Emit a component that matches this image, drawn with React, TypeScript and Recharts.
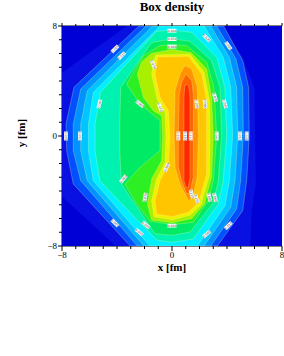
import React from 'react';
import { ScatterChart, Scatter, XAxis, YAxis, Label } from 'recharts';

type Pt = { x: number; y: number };
const pts = (a: number[][]): Pt[] => a.map(([x, y]) => ({ x, y }));

const AXIS_TICKS = [-8, -7, -6, -5, -4, -3, -2, -1, 0, 1, 2, 3, 4, 5, 6, 7, 8];
const MAJOR_TICKS = [-8, 0, 8];

// fill colour of each contour level, outermost first
const LEVEL_COLORS = [
  '#0000d6', '#0810e2', '#0050ff', '#0092ff', '#00c4ff', '#00f0ff', '#00f2b0',
  '#00ea66', '#2cf024', '#a8f000', '#f0f000', '#ffc600', '#ff9400', '#ff6000', '#ff2800',
];
const LEVEL_VALUES = [
  '0.000', '0.001', '0.005', '0.010', '0.020', '0.030', '0.040', '0.050',
  '0.060', '0.070', '0.080', '0.090', '0.100', '0.110', '0.120',
];

// contour polygons in fm, from the picture
const BAND_0 = pts([[-8, -8], [8, -8], [8, 8], [-8, 8]]);
const BAND_1 = pts([[-3.3, 8], [3.6, 8], [5.1, 5.8], [6.0, 3.5], [6.1, -3.5], [5.8, -5.4], [5.7, -8], [-4.1, -8], [-8, -4.4], [-8, 4.6]]);
const BAND_2 = pts([[-2.4, 8], [3.75, 8], [5.14, 5.48], [5.57, 3.54], [5.62, 0], [5.43, -3.27], [5.14, -5.43], [3.3, -8], [-3.05, -8], [-7.18, -3.49], [-7.66, -1.07], [-7.71, 0.87], [-7.13, 3.54]]);
const BAND_3 = pts([[-1.89, 8], [3.25, 8], [4.65, 5.6], [5.14, 3.54], [5.19, 0], [4.99, -3.25], [4.7, -5.31], [2.81, -8], [-2.52, -8], [-6.64, -3.25], [-7.18, -1.07], [-7.18, 0.87], [-6.64, 3.42]]);
const BAND_4 = pts([[-1.41, 8], [2.81, 8], [4.17, 5.72], [4.7, 3.54], [4.78, 0], [4.58, -3.25], [4.27, -5.19], [2.33, -8], [-2.04, -8], [-6.16, -3.25], [-6.64, -1.07], [-6.64, 0.87], [-6.16, 3.3]]);
const BAND_5 = pts([[-0.87, 8], [2.33, 8], [3.73, 5.72], [4.27, 3.54], [4.41, 0], [4.17, -3.25], [3.86, -5.07], [1.84, -8], [-1.6, -8], [-5.72, -3.25], [-6.08, -1.07], [-6.08, 0.87], [-5.72, 3.18]]);
const BAND_6 = pts([[-5.19, 3.18], [-1.12, 7.61], [0, 7.71], [1.43, 7.54], [3.25, 5.72], [3.85, 3.54], [3.98, 0], [3.73, -3.25], [3.37, -4.95], [1.55, -7.49], [0, -7.73], [-1.12, -7.56], [-5.24, -3.27], [-5.6, -1.07], [-5.6, 0.87]]);
const BAND_7 = pts([[-3.73, 3.54], [-1.48, 6.8], [0, 7.06], [1.31, 6.89], [2.88, 5.48], [3.49, 3.54], [3.61, 0], [3.37, -3.27], [3.01, -4.85], [1.31, -6.98], [0, -7.22], [-1.24, -7.1], [-3.68, -3.49], [-3.8, -1.07], [-3.8, 0.87]]);
const BAND_8 = pts([[-3.3, 3.78], [-2.08, 5.84], [-0.87, 6.57], [0, 6.64], [1.07, 6.57], [2.52, 5.36], [3.05, 3.54], [3.25, 0], [3.0, -3.25], [2.64, -4.7], [1.55, -6.28], [0, -6.45], [-1.6, -6.2], [-2.57, -4.95], [-3.42, -3.49], [-2.33, -2.28], [-0.87, -1.07], [-0.87, 1.12], [-2.33, 2.33]]);
const BAND_9 = pts([[-2.52, 4.51], [-2.2, 5.4], [-1.5, 6.0], [0, 6.3], [1.4, 6.05], [2.52, 4.87], [2.88, 2.81], [3.0, 0], [2.88, -3.0], [2.35, -4.95], [1.45, -6.0], [0, -6.3], [-1.48, -6.11], [-1.79, -4.95], [-1.48, -3.13], [-0.75, -1.79], [-0.68, 0], [-0.75, 1.48], [-1.36, 1.84], [-2.08, 2.81]]);
const BAND_10 = pts([[-1.48, 4.51], [-1.2, 5.9], [1.3, 5.95], [2.33, 4.63], [2.72, 2.57], [2.76, 0], [2.72, -2.88], [2.1, -5.0], [1.35, -5.75], [0, -6.11], [-1.31, -5.87], [-1.48, -4.7], [-1.12, -3.13], [-0.51, -1.92], [-0.44, 0], [-0.51, 1.72], [-1.07, 2.62]]);
const BAND_11 = pts([[-1.24, 4.51], [-1.05, 5.75], [1.2, 5.8], [2.16, 4.51], [2.52, 2.57], [2.52, 0], [2.52, -2.76], [1.95, -4.8], [1.2, -5.55], [0, -5.87], [-1.12, -5.67], [-1.24, -4.7], [-0.87, -3.25], [-0.27, -2.04], [-0.15, 0], [-0.27, 1.84], [-0.87, 2.81]]);
const BAND_12 = pts([[0.58, 4.51], [0.95, 5.12], [1.43, 4.87], [1.84, 3.54], [1.92, 0], [1.84, -2.88], [1.55, -4.46], [1.19, -4.7], [0.58, -3.49], [0.22, -2.28], [0.15, 0], [0.22, 3.3]]);
const BAND_13 = pts([[0.7, 3.9], [1.02, 4.51], [1.43, 4.02], [1.55, 3.05], [1.55, 0], [1.55, -3.0], [1.31, -4.1], [1.07, -4.22], [0.7, -3.25], [0.46, -2.28], [0.46, 0], [0.53, 3.05]]);
const BAND_14 = pts([[0.92, 3.54], [1.02, 3.78], [1.21, 3.66], [1.31, 2.81], [1.31, -3.0], [1.19, -3.73], [1.02, -3.78], [0.87, -3.25], [0.87, 2.81]]);

const BANDS = [BAND_0, BAND_1, BAND_2, BAND_3, BAND_4, BAND_5, BAND_6, BAND_7, BAND_8, BAND_9, BAND_10, BAND_11, BAND_12, BAND_13, BAND_14];

// contour value labels: where they sit (fm), their tilt and which level
const CONTOUR_LABELS = [
  { x: 0, y: 7.66, angle: 0, level: 6 }, { x: 0, y: 7.05, angle: 0, level: 7 }, { x: 0, y: 6.5, angle: 0, level: 8 },
  { x: -4.15, y: 6.33, angle: -45, level: 2 }, { x: -3.66, y: 5.84, angle: -45, level: 3 },
  { x: 2.52, y: 7.13, angle: 45, level: 4 }, { x: 4.1, y: 6.57, angle: 55, level: 2 },
  { x: -1.36, y: 5.19, angle: 65, level: 9 }, { x: -2.33, y: 2.33, angle: 40, level: 8 },
  { x: -0.87, y: 2.08, angle: 70, level: 9 }, { x: -5.28, y: 2.33, angle: -75, level: 6 },
  { x: 1.79, y: 2.33, angle: 85, level: 12 }, { x: 2.4, y: 2.33, angle: 85, level: 11 },
  { x: 3.13, y: 2.81, angle: 75, level: 9 }, { x: 3.85, y: 2.33, angle: 75, level: 6 },
  { x: -7.71, y: 0, angle: 90, level: 2 }, { x: -6.69, y: 0, angle: 90, level: 3 },
  { x: 0.46, y: 0, angle: 90, level: 12 }, { x: 0.95, y: 0, angle: 90, level: 14 }, { x: 1.36, y: 0, angle: 90, level: 13 },
  { x: 3.25, y: 0, angle: 90, level: 8 }, { x: 4.95, y: 0, angle: 90, level: 3 }, { x: 5.43, y: 0, angle: 90, level: 2 },
  { x: -0.39, y: -2.28, angle: -65, level: 10 }, { x: -3.54, y: -3.13, angle: -50, level: 8 },
  { x: 1.43, y: -4.22, angle: 75, level: 13 }, { x: 1.79, y: -4.58, angle: 75, level: 12 },
  { x: 2.72, y: -4.46, angle: 75, level: 10 }, { x: 3.13, y: -4.46, angle: 75, level: 8 },
  { x: -1.96, y: -4.46, angle: -80, level: 9 },
  { x: -4.15, y: -6.33, angle: 45, level: 2 }, { x: -1.89, y: -6.47, angle: 40, level: 7 },
  { x: -2.38, y: -7.0, angle: 40, level: 6 }, { x: 0, y: -6.52, angle: 0, level: 8 },
  { x: 2.52, y: -7.13, angle: -40, level: 6 }, { x: 4.1, y: -6.52, angle: -45, level: 3 },
];

const SERIF = '"Liberation Serif", "DejaVu Serif", serif';
const fmtTick = (v: number) => (v < 0 ? `\u2212${Math.abs(v)}` : `${v}`);

const NoDot = () => <g />;

const bandPath = (fill: string, edge: boolean) => (props: any) => {
  const p = (props.points || []) as Pt[];
  const d = p.map((q, i) => `${i ? 'L' : 'M'}${q.x},${q.y}`).join('') + 'Z';
  return (
    <path
      d={d}
      fill={fill}
      stroke={edge ? 'rgba(255,255,170,0.45)' : 'none'}
      strokeWidth={0.6}
      strokeLinejoin="round"
    />
  );
};

function ContourLabel(props: any) {
  const { cx, cy, payload } = props;
  if (cx == null || cy == null) return <g />;
  return (
    <g transform={`translate(${cx},${cy}) rotate(${payload.angle})`}>
      <rect x={-4.5} y={-1.9} width={9} height={3.8} fill="#fff" />
      <text x={0} y={1.2} textAnchor="middle" fontSize={3.2} fontFamily="DejaVu Sans" fill="#444">
        {LEVEL_VALUES[payload.level]}
      </text>
    </g>
  );
}

function BottomTick({ x, y, payload }: any) {
  const major = MAJOR_TICKS.includes(payload.value);
  return (
    <g>
      <line x1={x} x2={x} y1={y} y2={y + (major ? 5 : 3)} stroke="#000" strokeWidth={1} />
      {major && (
        <text x={x} y={y + 11.5} textAnchor="middle" fontSize={9} fontFamily={SERIF} fill="#000">
          {fmtTick(payload.value)}
        </text>
      )}
    </g>
  );
}

function TopTick({ x, y, payload }: any) {
  const major = MAJOR_TICKS.includes(payload.value);
  return <line x1={x} x2={x} y1={y} y2={y - (major ? 3 : 2)} stroke="#000" strokeWidth={1} />;
}

function LeftTick({ x, y, payload }: any) {
  const major = MAJOR_TICKS.includes(payload.value);
  return (
    <g>
      <line x1={x - (major ? 4 : 3)} x2={x} y1={y} y2={y} stroke="#000" strokeWidth={1} />
      {major && (
        <text x={x - 5} y={y + 3} textAnchor="end" fontSize={9} fontFamily={SERIF} fill="#000">
          {fmtTick(payload.value)}
        </text>
      )}
    </g>
  );
}

export default function App() {
  return (
    <div style={{ position: 'absolute', left: 0, top: 0, width: 284, height: 356, background: '#fff' }}>
      <div
        style={{
          position: 'absolute', left: 62, top: 0, width: 220, textAlign: 'center',
          fontFamily: SERIF, fontWeight: 'bold', fontSize: 13, lineHeight: '13px', color: '#000',
        }}
      >
        Box density
      </div>
      <ScatterChart width={284} height={290} margin={{ top: 20, right: 2, bottom: 0, left: 0 }}>
        <XAxis
          xAxisId="b" orientation="bottom" type="number" dataKey="x" domain={[-8, 8]} allowDataOverflow
          ticks={AXIS_TICKS} interval={0} height={44} tickSize={0} tickMargin={0} tickLine={false}
          tick={<BottomTick />} axisLine={{ stroke: '#000' }}
        >
          <Label
            content={({ viewBox }: any) => (
              <text
                x={viewBox.x + viewBox.width / 2} y={viewBox.y + 24.5} textAnchor="middle"
                fontSize={11} fontWeight="bold" fontFamily={SERIF} fill="#000"
              >
                x [fm]
              </text>
            )}
          />
        </XAxis>
        <XAxis
          xAxisId="t" orientation="top" type="number" dataKey="x" domain={[-8, 8]} allowDataOverflow
          ticks={AXIS_TICKS} interval={0} height={6} tickSize={0} tickMargin={0} tickLine={false}
          tick={<TopTick />} axisLine={{ stroke: '#000' }}
        />
        <YAxis
          type="number" dataKey="y" domain={[-8, 8]} allowDataOverflow ticks={AXIS_TICKS} interval={0}
          width={62} tickSize={0} tickMargin={0} tickLine={false} tick={<LeftTick />} axisLine={{ stroke: '#000' }}
        >
          <Label
            content={() => (
              <text
                x={25} y={133} transform="rotate(-90 25 133)" textAnchor="middle"
                fontSize={11} fontWeight="bold" fontFamily={SERIF} fill="#000"
              >
                y [fm]
              </text>
            )}
          />
        </YAxis>
        {BANDS.map((band, i) => (
          <Scatter
            key={`band-${i}`}
            xAxisId={i === 1 ? 't' : 'b'}
            data={band}
            line={bandPath(LEVEL_COLORS[i], i > 1)}
            lineType="joint"
            shape={NoDot}
            isAnimationActive={false}
          />
        ))}
        <Scatter xAxisId="b" data={CONTOUR_LABELS} shape={ContourLabel} isAnimationActive={false} />
      </ScatterChart>
    </div>
  );
}
